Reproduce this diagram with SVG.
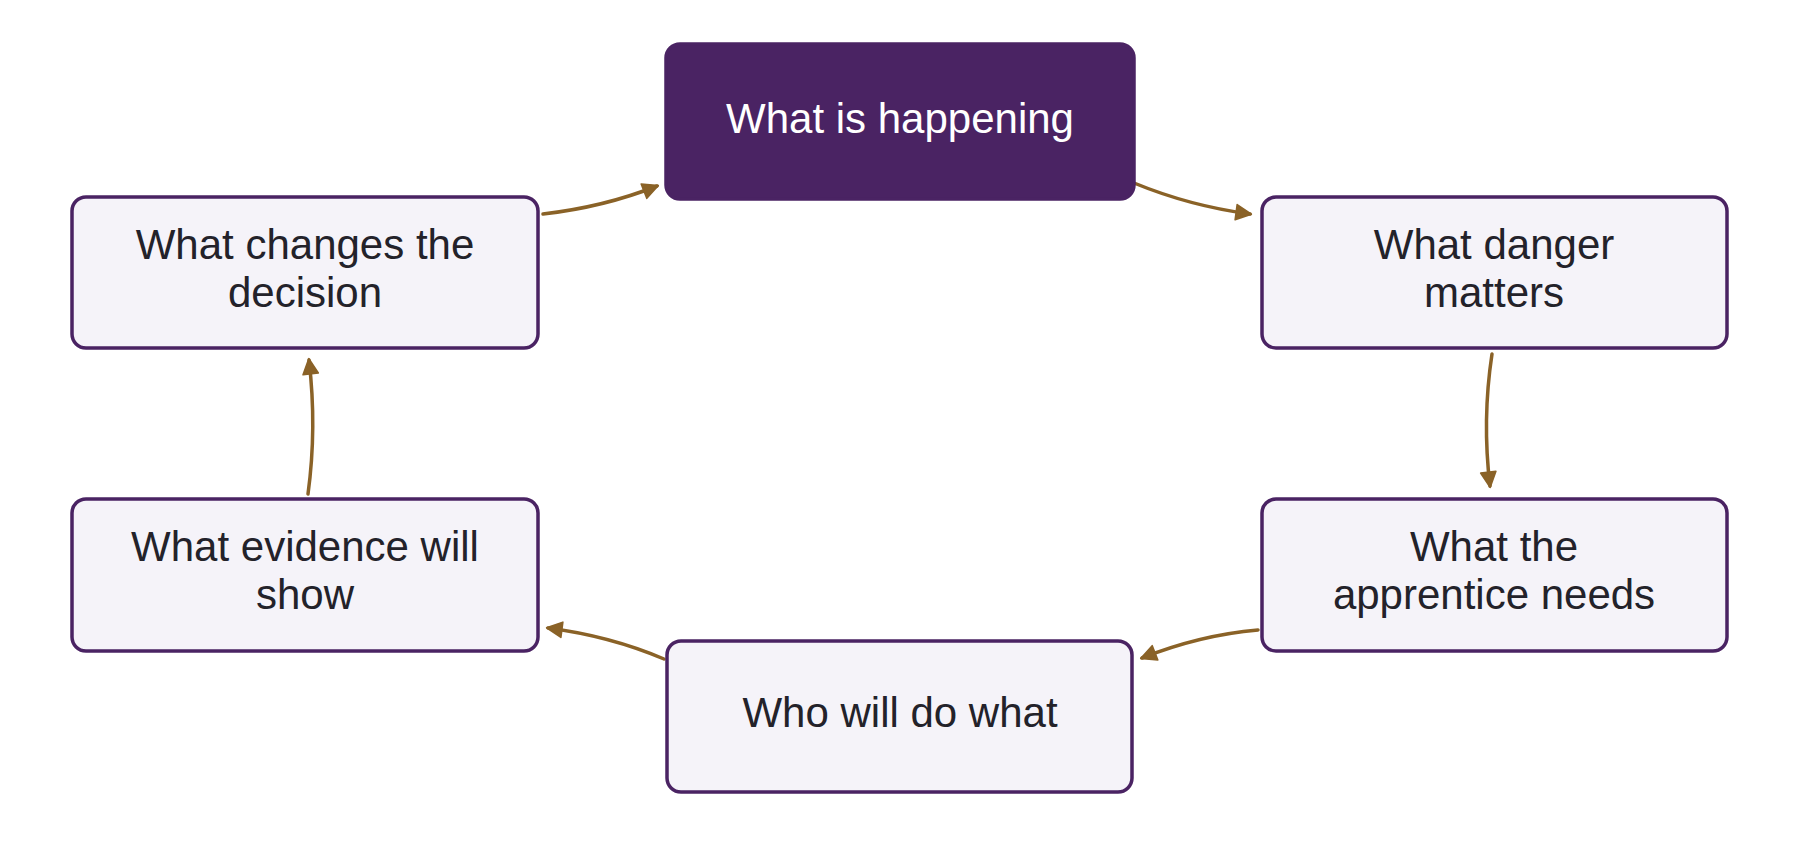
<svg xmlns="http://www.w3.org/2000/svg" width="1800" height="864" viewBox="0 0 1800 864">
<style>
.n rect{fill:#f5f3f9;stroke:#4a2363;stroke-width:3.5}
.n text{font-family:"Liberation Sans",Arial,sans-serif;font-size:42px;fill:#23222a;text-anchor:middle}
#top rect{fill:#4a2363}
#top text{fill:#ffffff}
.e path{fill:none;stroke:#8a6227;stroke-width:3.5;stroke-linecap:round}
</style>
<defs>
<marker id="ah" viewBox="0 0 10 10" refX="9" refY="5" markerWidth="7" markerHeight="7" markerUnits="userSpaceOnUse" orient="auto" style="overflow:visible">
<path d="M0,0 L10,5 L0,10 z" fill="#8a6227" stroke="#8a6227" stroke-width="1" stroke-linejoin="round" transform="scale(2.2) translate(-5,-2.7)"/>
</marker>
</defs>
<rect width="1800" height="864" fill="#ffffff"/>
<g class="e">
<path d="M1134,183 Q1190,206 1250,214" marker-end="url(#ah)"/>
<path d="M1492,354 Q1482,420 1490,486" marker-end="url(#ah)"/>
<path d="M1258,630 Q1200,635 1142,658" marker-end="url(#ah)"/>
<path d="M664,659 Q610,636 548,628" marker-end="url(#ah)"/>
<path d="M308,494 Q317,428 309,360" marker-end="url(#ah)"/>
<path d="M543,214 Q604,207 657,186" marker-end="url(#ah)"/>
</g>
<g id="top" class="n"><rect x="666" y="44" width="468" height="155" rx="14"/><text x="900" y="133">What is happening</text></g>
<g id="danger" class="n"><rect x="1262" y="197" width="465" height="151" rx="14"/><text x="1494" y="259">What danger</text><text x="1494" y="307">matters</text></g>
<g id="apprentice" class="n"><rect x="1262" y="499" width="465" height="152" rx="14"/><text x="1494" y="561">What the</text><text x="1494" y="609">apprentice needs</text></g>
<g id="who" class="n"><rect x="667" y="641" width="465" height="151" rx="14"/><text x="900" y="727">Who will do what</text></g>
<g id="evidence" class="n"><rect x="72" y="499" width="466" height="152" rx="14"/><text x="305" y="561">What evidence will</text><text x="305" y="609">show</text></g>
<g id="changes" class="n"><rect x="72" y="197" width="466" height="151" rx="14"/><text x="305" y="259">What changes the</text><text x="305" y="307">decision</text></g>
</svg>
